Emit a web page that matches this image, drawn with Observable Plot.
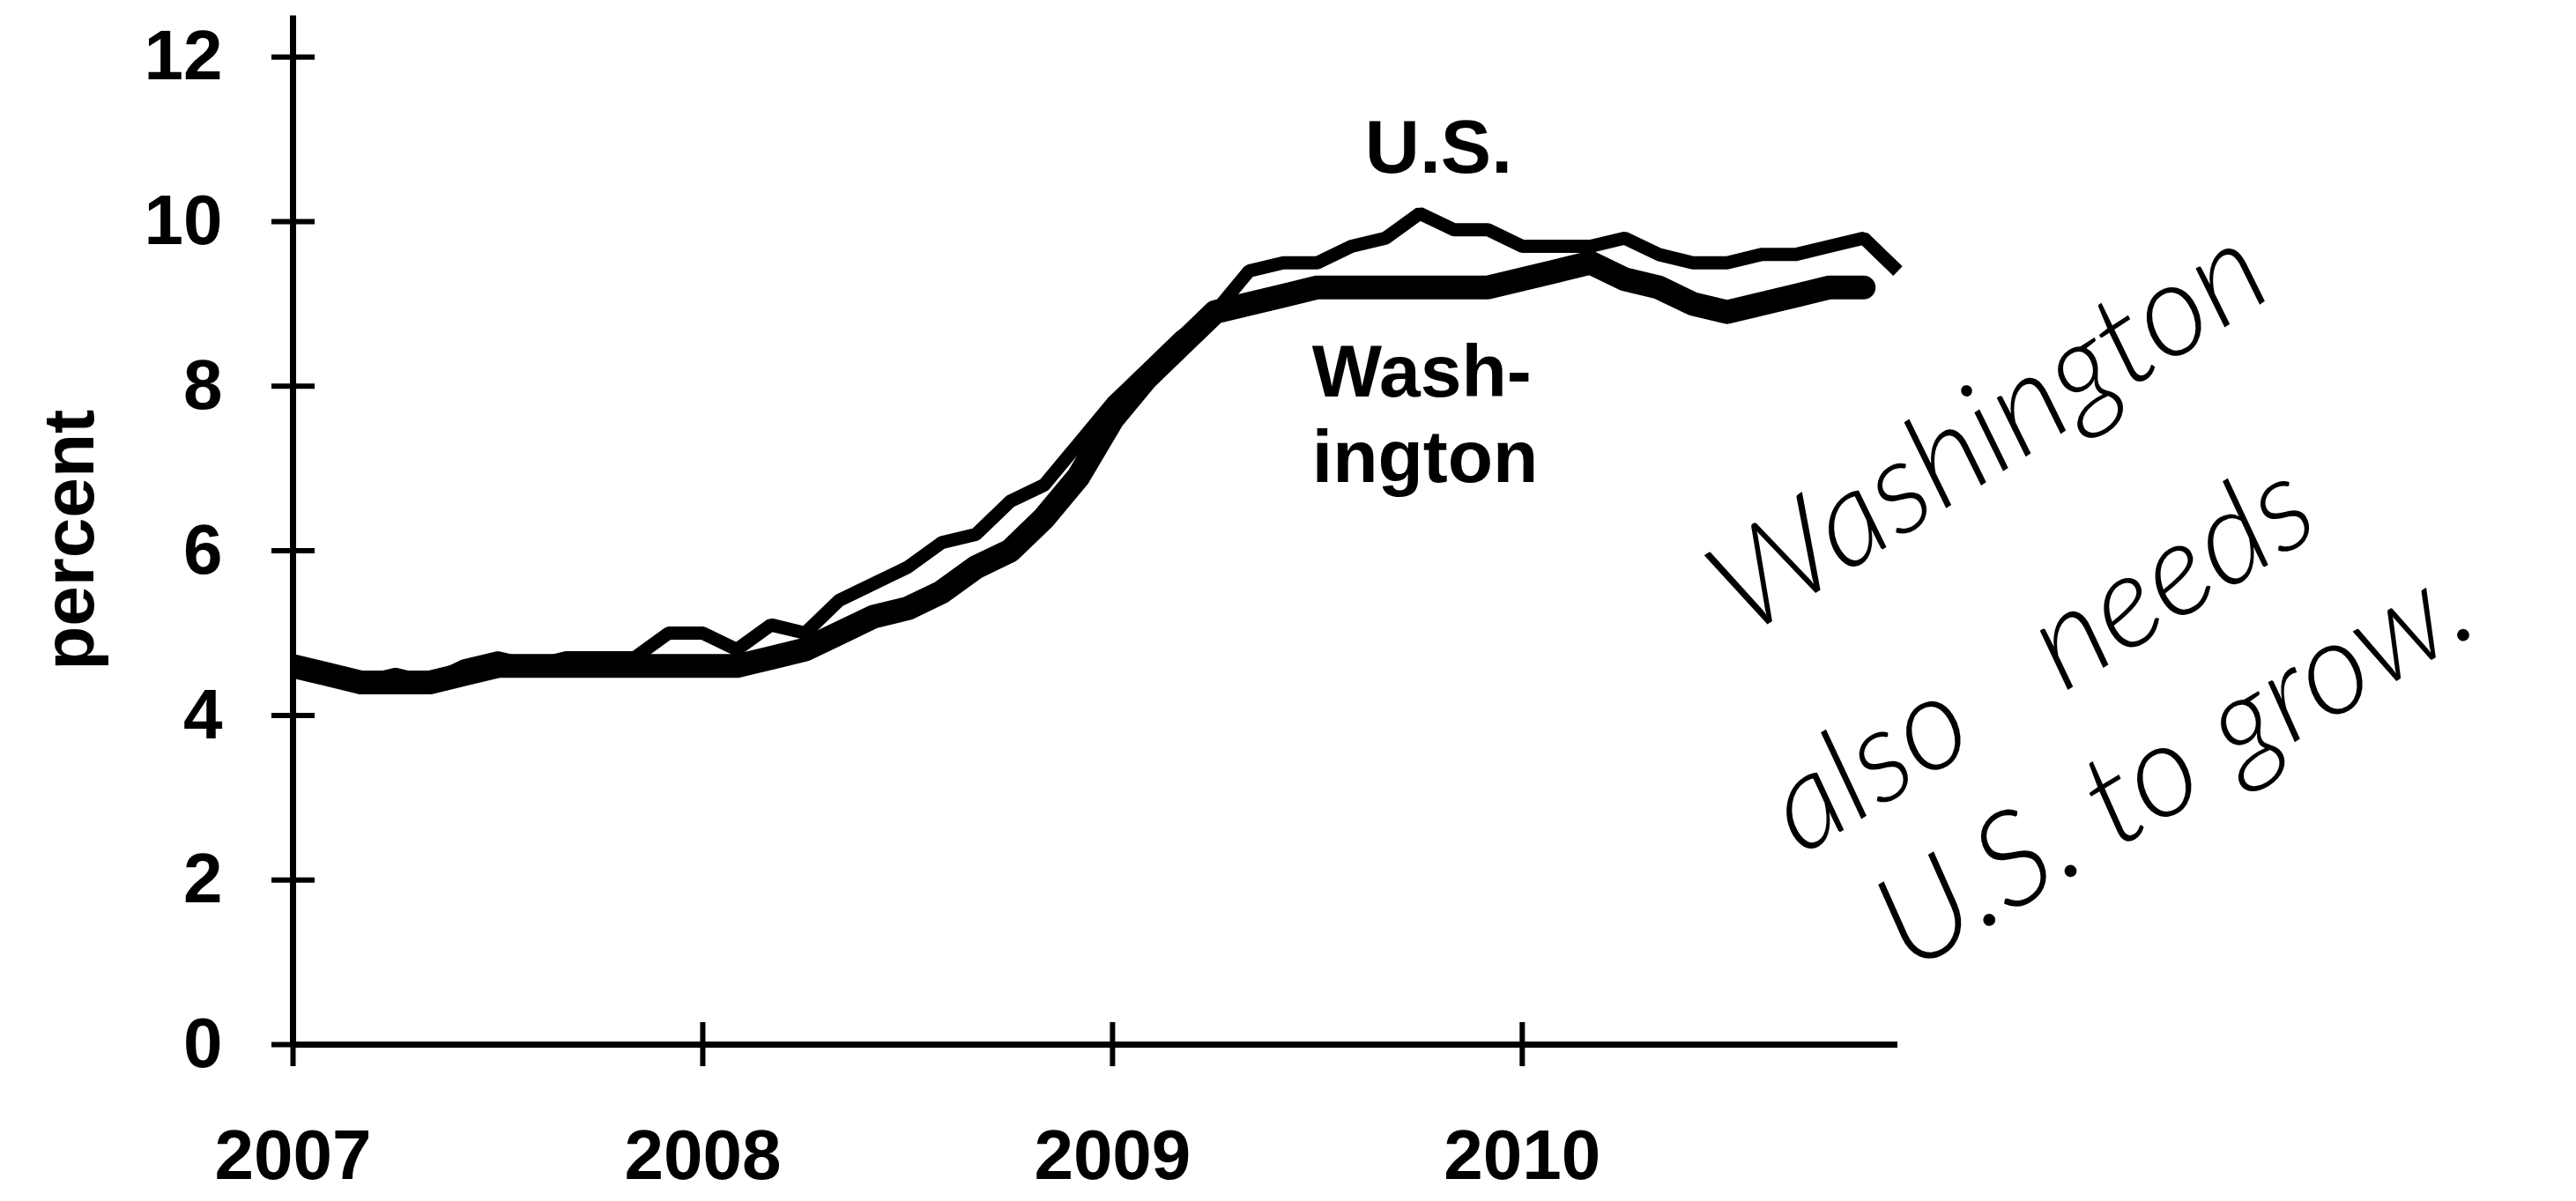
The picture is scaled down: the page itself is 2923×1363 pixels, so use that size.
<!DOCTYPE html>
<html>
<head>
<meta charset="utf-8">
<script src="https://cdn.jsdelivr.net/npm/d3@7"></script>
<script src="https://cdn.jsdelivr.net/npm/@observablehq/plot@0.6"></script>
<style>
  html, body { margin: 0; padding: 0; background: #fff; }
  #chart svg { display: block; }
</style>
</head>
<body>
<div id="chart"></div>
<script>
// ---- data (monthly unemployment rate, percent) ----
const startYear = 2007;           // first month = January 2007
const usRate = [
  4.6, 4.5, 4.4, 4.5, 4.4, 4.6, 4.7, 4.6, 4.7, 4.7, 4.7, 5.0,
  5.0, 4.8, 5.1, 5.0, 5.4, 5.6, 5.8, 6.1, 6.2, 6.6, 6.8, 7.3,
  7.8, 8.2, 8.6, 8.9, 9.4, 9.5, 9.5, 9.7, 9.8, 10.1, 9.9, 9.9,
  9.7, 9.7, 9.7, 9.8, 9.6, 9.5, 9.5, 9.6, 9.6, 9.7, 9.8, 9.4
];
const waRate = [
  4.6, 4.5, 4.4, 4.4, 4.4, 4.5, 4.6, 4.6, 4.6, 4.6, 4.6, 4.6,
  4.6, 4.6, 4.7, 4.8, 5.0, 5.2, 5.3, 5.5, 5.8, 6.0, 6.4, 6.9,
  7.6, 8.1, 8.5, 8.9, 9.0, 9.1, 9.2, 9.2, 9.2, 9.2, 9.2, 9.2,
  9.3, 9.4, 9.5, 9.3, 9.2, 9.0, 8.9, 9.0, 9.1, 9.2, 9.2
];
const xTicks = [2007, 2008, 2009, 2010];
const yTicks = [0, 2, 4, 6, 8, 10, 12];
const seriesNames = ["U.S.", "Wash-\nington"];
const yLabel = "percent";
const noteLines = ["Washington", "also\u00a0\u00a0\u00a0needs", "U.S. to grow."];

// ---- tables built from the arrays ----
const toRows = (arr) => arr.map((v, i) => ({t: startYear + i / 12, v}));
const usData = toRows(usRate);
const waData = toRows(waRate);
const lastMonth = startYear + (usRate.length - 1) / 12;

const labelFont = "'Liberation Sans', Arial, Helvetica, sans-serif";
const handFont = "Lato, 'Open Sans', 'Noto Sans', sans-serif";
const hand = {fontFamily: handFont, fontWeight: 300, fontStyle: "italic", fontSize: 148};

const chart = Plot.plot({
  width: 2923,
  height: 1363,
  marginLeft: 332,
  marginRight: 770,
  marginTop: 17.5,
  marginBottom: 178,
  x: {type: "linear", domain: [startYear, lastMonth]},
  y: {type: "linear", domain: [0, 12.5]},
  style: {
    fontFamily: labelFont,
    fontWeight: "bold",
    fontSize: "80px",
    background: "#fff",
    color: "#000",
    overflow: "visible"
  },
  marks: [
    // axis lines
    Plot.ruleX([startYear], {strokeWidth: 7}),
    Plot.ruleY([0], {strokeWidth: 7}),
    // cross ticks
    Plot.axisY({ticks: yTicks, tickSize: 49, dx: 25, fill: "none", strokeWidth: 6, label: null}),
    Plot.axisX({ticks: xTicks, tickSize: 50, dy: -25, fill: "none", strokeWidth: 6, label: null}),
    // tick labels
    Plot.axisY({ticks: yTicks, tickSize: 0, tickPadding: 80, fontSize: 80, label: null}),
    Plot.axisX({ticks: xTicks, tickSize: 0, tickPadding: 96, fontSize: 80, tickFormat: "d", label: null}),
    // y axis title
    Plot.text([yLabel], {frameAnchor: "left", text: d => d, rotate: -90, textAnchor: "middle",
      dx: -253, dy: 11, fontSize: 82}),
    // series
    Plot.line(waData, {x: "t", y: "v", stroke: "#000", strokeWidth: 27,
      strokeLinecap: "round", strokeLinejoin: "round", clip: "frame"}),
    Plot.line(usData, {x: "t", y: "v", stroke: "#000", strokeWidth: 15,
      strokeLinecap: "butt", strokeLinejoin: "miter"}),
    // series labels
    Plot.text([seriesNames[0]], {x: 2009.796, y: 10.89, text: d => d, fontSize: 86, textAnchor: "middle"}),
    Plot.text([seriesNames[1]], {x: 2009.487, y: 8.61, text: d => d, fontSize: 84,
      textAnchor: "start", lineAnchor: "top", lineHeight: 1.155}),
    // handwritten note
    Plot.text([noteLines[0]], {x: 2011.139, y: 7.46, text: d => d, rotate: -33, ...hand}),
    Plot.text([noteLines[1]], {x: 2011.265, y: 4.70, text: d => d, rotate: -32, ...hand}),
    Plot.text([noteLines[2]], {x: 2011.592, y: 3.39, text: d => d, rotate: -31, ...hand})
  ]
});

document.getElementById("chart").appendChild(chart);
</script>
</body>
</html>
